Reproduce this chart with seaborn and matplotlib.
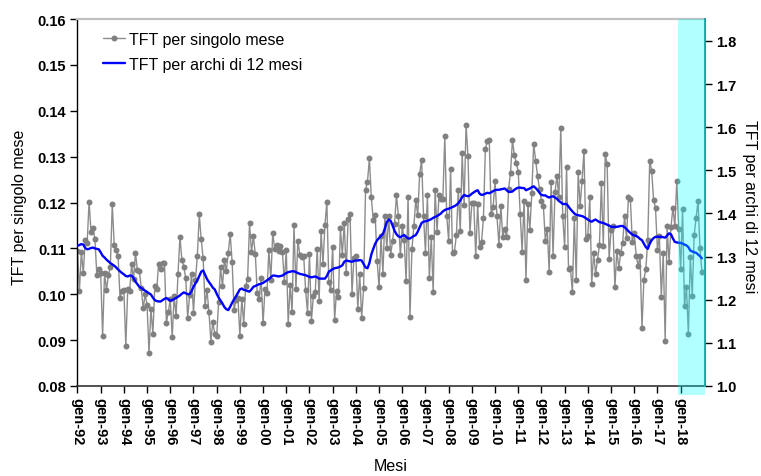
import numpy as np
import pandas as pd
import matplotlib
matplotlib.use("Agg")
import matplotlib.pyplot as plt
from matplotlib.lines import Line2D
import seaborn as sns

# ---------------- data ----------------
tick_labels = ['gen-92', 'gen-93', 'gen-94', 'gen-95', 'gen-96', 'gen-97', 'gen-98',
               'gen-99', 'gen-00', 'gen-01', 'gen-02', 'gen-03', 'gen-04', 'gen-05',
               'gen-06', 'gen-07', 'gen-08', 'gen-09', 'gen-10', 'gen-11', 'gen-12',
               'gen-13', 'gen-14', 'gen-15', 'gen-16', 'gen-17', 'gen-18']

# TFT per singolo mese (monthly, gen-92 ... dic-18), left axis
tft_mese = [
    0.1094, 0.1007, 0.1093, 0.1046, 0.1118, 0.1111, 0.1202, 0.1136, 0.1145, 0.1120, 0.1043, 0.1056,
    0.1046, 0.0909, 0.1047, 0.1009, 0.1042, 0.1060, 0.1197, 0.1107, 0.1096, 0.1083, 0.0992, 0.1007,
    0.1009, 0.0888, 0.1011, 0.1007, 0.1065, 0.1033, 0.1090, 0.1053, 0.1051, 0.1014, 0.0969, 0.1000,
    0.0976, 0.0873, 0.0968, 0.0913, 0.1018, 0.1012, 0.1067, 0.1056, 0.1069, 0.1069, 0.0938, 0.0961,
    0.0989, 0.0906, 0.0997, 0.0953, 0.1044, 0.1125, 0.1075, 0.1060, 0.1035, 0.0949, 0.0998, 0.1044,
    0.0960, 0.1030, 0.1083, 0.1174, 0.1120, 0.1078, 0.0975, 0.1009, 0.0961, 0.0897, 0.0940, 0.0914,
    0.0908, 0.0983, 0.1059, 0.1017, 0.1075, 0.1051, 0.1090, 0.1131, 0.1070, 0.0966, 0.0988, 0.0991,
    0.0910, 0.0990, 0.0936, 0.1019, 0.1033, 0.1155, 0.1093, 0.1126, 0.1087, 0.1002, 0.0990, 0.1035,
    0.0937, 0.1012, 0.1002, 0.1096, 0.1032, 0.1133, 0.1099, 0.1107, 0.1095, 0.1106, 0.1093, 0.1026,
    0.1096, 0.0936, 0.1020, 0.0961, 0.1151, 0.1012, 0.1117, 0.1086, 0.1082, 0.1084, 0.1009, 0.0960,
    0.1088, 0.0942, 0.0996, 0.1004, 0.1099, 0.0986, 0.1137, 0.1066, 0.1151, 0.1201, 0.1026, 0.1010,
    0.1104, 0.0943, 0.1008, 0.0995, 0.1144, 0.1086, 0.1155, 0.1046, 0.1165, 0.1175, 0.1001, 0.1080,
    0.1084, 0.0968, 0.1044, 0.0949, 0.1013, 0.1228, 0.1245, 0.1296, 0.1211, 0.1162, 0.1172, 0.1073,
    0.1015, 0.1126, 0.1045, 0.1170, 0.1100, 0.1171, 0.1086, 0.1117, 0.1153, 0.1216, 0.1170, 0.1085,
    0.1148, 0.1119, 0.1028, 0.1213, 0.0950, 0.1099, 0.1148, 0.1206, 0.1172, 0.1262, 0.1293, 0.1171,
    0.1090, 0.1216, 0.1035, 0.1124, 0.1004, 0.1228, 0.1136, 0.1216, 0.1207, 0.1207, 0.1345, 0.1171,
    0.1117, 0.1274, 0.1090, 0.1093, 0.1129, 0.1227, 0.1138, 0.1307, 0.1194, 0.1369, 0.1301, 0.1133,
    0.1199, 0.1199, 0.1083, 0.1196, 0.1104, 0.1113, 0.1167, 0.1317, 0.1334, 0.1336, 0.1175, 0.1190,
    0.1246, 0.1170, 0.1107, 0.1193, 0.1124, 0.1143, 0.1124, 0.1230, 0.1265, 0.1336, 0.1303, 0.1286,
    0.1267, 0.1175, 0.1093, 0.1204, 0.1032, 0.1196, 0.1141, 0.1220, 0.1328, 0.1291, 0.1258, 0.1229,
    0.1204, 0.1193, 0.1117, 0.1143, 0.1049, 0.1245, 0.1084, 0.1222, 0.1258, 0.1211, 0.1363, 0.1171,
    0.1102, 0.1278, 0.1054, 0.1057, 0.1004, 0.1167, 0.1032, 0.1267, 0.1193, 0.1247, 0.1312, 0.1120,
    0.1128, 0.1213, 0.1022, 0.1090, 0.1044, 0.1075, 0.1107, 0.1242, 0.1106, 0.1305, 0.1283, 0.1077,
    0.1141, 0.1149, 0.1015, 0.1095, 0.1057, 0.1090, 0.1112, 0.1171, 0.1122, 0.1213, 0.1207, 0.1114,
    0.1133, 0.1084, 0.1062, 0.1084, 0.0926, 0.1032, 0.1055, 0.1119, 0.1291, 0.1269, 0.1206, 0.1187,
    0.1097, 0.1126, 0.0995, 0.1090, 0.0899, 0.1148, 0.1070, 0.1146, 0.1189, 0.1148, 0.1247, 0.1143,
    0.1054, 0.1185, 0.0974, 0.1016, 0.0913, 0.1082, 0.0997, 0.1129, 0.1166, 0.1204, 0.1100, 0.1049,
]

# TFT per archi di 12 mesi (rolling 12 months), right axis
tft_12mesi = [
    1.325, 1.327, 1.329, 1.328, 1.320, 1.317, 1.318, 1.320, 1.321, 1.319, 1.318, 1.317,
    1.310, 1.302, 1.298, 1.293, 1.289, 1.285, 1.282, 1.279, 1.275, 1.270, 1.266, 1.262,
    1.259, 1.255, 1.254, 1.256, 1.256, 1.250, 1.242, 1.236, 1.230, 1.227, 1.224, 1.221,
    1.218, 1.215, 1.212, 1.205, 1.199, 1.197, 1.196, 1.196, 1.199, 1.202, 1.204, 1.201,
    1.198, 1.199, 1.202, 1.204, 1.207, 1.210, 1.214, 1.217, 1.215, 1.213, 1.213, 1.220,
    1.230, 1.238, 1.245, 1.255, 1.265, 1.268, 1.258, 1.248, 1.241, 1.235, 1.228, 1.224,
    1.214, 1.205, 1.198, 1.191, 1.183, 1.178, 1.176, 1.184, 1.193, 1.201, 1.208, 1.216,
    1.224, 1.226, 1.223, 1.222, 1.220, 1.219, 1.224, 1.230, 1.232, 1.234, 1.236, 1.237,
    1.239, 1.242, 1.245, 1.248, 1.252, 1.256, 1.256, 1.255, 1.254, 1.255, 1.256, 1.259,
    1.262, 1.264, 1.265, 1.266, 1.266, 1.264, 1.262, 1.260, 1.259, 1.258, 1.257, 1.255,
    1.253, 1.252, 1.253, 1.254, 1.252, 1.249, 1.249, 1.249, 1.249, 1.255, 1.265, 1.268,
    1.271, 1.273, 1.274, 1.275, 1.277, 1.280, 1.288, 1.291, 1.290, 1.289, 1.288, 1.290,
    1.291, 1.291, 1.292, 1.291, 1.283, 1.275, 1.273, 1.285, 1.305, 1.318, 1.330, 1.338,
    1.343, 1.348, 1.353, 1.365, 1.380, 1.386, 1.383, 1.372, 1.360, 1.352, 1.347, 1.345,
    1.348, 1.350, 1.346, 1.342, 1.342, 1.345, 1.348, 1.350, 1.358, 1.368, 1.378, 1.381,
    1.382, 1.383, 1.385, 1.387, 1.390, 1.392, 1.394, 1.397, 1.400, 1.405, 1.408, 1.410,
    1.411, 1.413, 1.415, 1.417, 1.420, 1.424, 1.430, 1.438, 1.443, 1.441, 1.440, 1.442,
    1.446, 1.449, 1.452, 1.454, 1.446, 1.443, 1.444, 1.446, 1.448, 1.447, 1.449, 1.452,
    1.454, 1.455, 1.455, 1.456, 1.457, 1.458, 1.454, 1.450, 1.450, 1.451, 1.455, 1.458,
    1.460, 1.460, 1.459, 1.459, 1.454, 1.456, 1.458, 1.461, 1.463, 1.459, 1.454, 1.448,
    1.443, 1.442, 1.442, 1.439, 1.437, 1.439, 1.440, 1.437, 1.434, 1.429, 1.426, 1.422,
    1.422, 1.422, 1.416, 1.410, 1.405, 1.400, 1.397, 1.396, 1.395, 1.394, 1.392, 1.389,
    1.386, 1.383, 1.381, 1.384, 1.386, 1.383, 1.380, 1.379, 1.378, 1.376, 1.374, 1.372,
    1.369, 1.369, 1.369, 1.369, 1.370, 1.371, 1.371, 1.368, 1.364, 1.359, 1.355, 1.351,
    1.349, 1.348, 1.345, 1.341, 1.338, 1.330, 1.322, 1.318, 1.330, 1.338, 1.343, 1.346,
    1.346, 1.346, 1.346, 1.345, 1.344, 1.349, 1.354, 1.352, 1.342, 1.334, 1.333, 1.332,
    1.332, 1.330, 1.328, 1.326, 1.322, 1.314, 1.312, 1.310, 1.309, 1.305, 1.301, 1.296,
]

left_ticks = [0.08, 0.09, 0.10, 0.11, 0.12, 0.13, 0.14, 0.15, 0.16]
right_ticks = [1.0, 1.1, 1.2, 1.3, 1.4, 1.5, 1.6, 1.7, 1.8]

# ---------------- style ----------------
sns.set_theme(style="white")
plt.rcParams["font.family"] = ["Liberation Sans", "DejaVu Sans"]
plt.rcParams["text.color"] = "black"
plt.rcParams["axes.labelcolor"] = "black"
plt.rcParams["xtick.color"] = "black"
plt.rcParams["ytick.color"] = "black"

W, H = 761, 477
fig = plt.figure(figsize=(W / 100, H / 100), dpi=100)
L, R, T, B = 77, 705, 20, 387
ax = fig.add_axes([L / W, 1 - B / H, (R - L) / W, (B - T) / H])
ax2 = ax.twinx()

df = pd.DataFrame({"mese": np.arange(len(tft_mese)),
                   "singolo": tft_mese,
                   "archi": tft_12mesi})

sns.lineplot(data=df, x="mese", y="singolo", ax=ax, color="#8c8c8c",
             linewidth=1.0, marker="o", markersize=4.3,
             markeredgewidth=0, markerfacecolor="#808080", legend=False)
sns.lineplot(data=df, x="mese", y="archi", ax=ax2, color="#0000ff",
             linewidth=1.7, legend=False)

n = len(tft_mese)
xmin, xmax = -0.25, 324.6
ax.set_xlim(xmin, xmax)
ax2.set_xlim(xmin, xmax)
ax.set_ylim(0.08, 0.16)
ax2.set_ylim(1.0, 1.851)

# highlighted last period
ax2.axvspan(310.6, xmax, ymin=-0.025, ymax=1.0, color="#00ffff", alpha=0.3,
            lw=0, zorder=5, clip_on=False)

# ticks
ax.set_xticks(np.arange(0, n, 12))
ax.set_xticklabels(tick_labels, rotation=270, fontsize=10.5, fontweight="bold")
ax.set_yticks(left_ticks)
ax.set_yticklabels(["%.2f" % v for v in left_ticks], fontsize=10.5, fontweight="bold")
ax2.set_yticks(right_ticks)
ax2.set_yticklabels(["%.1f" % v for v in right_ticks], fontsize=10.5, fontweight="bold")

ax.tick_params(axis="x", direction="out", length=5, width=1, pad=3, color="black",
               labelcolor="black", bottom=True)
ax.tick_params(axis="y", direction="out", length=5, width=1, pad=3, color="black",
               labelcolor="black", left=True)
ax2.tick_params(axis="y", direction="out", length=5, width=1, pad=3, color="black",
                labelcolor="black", right=True)

# spines
for s in ["top", "left", "bottom", "right"]:
    ax2.spines[s].set_visible(False)
ax2.spines["right"].set_visible(True)
ax2.spines["right"].set_color("#2f8f8f")
ax2.spines["right"].set_linewidth(1.4)
ax.spines["right"].set_visible(False)
ax.spines["top"].set_color("#c0c0c0")
ax.spines["top"].set_linewidth(1.6)
ax.spines["left"].set_color("black")
ax.spines["left"].set_linewidth(1.0)
ax.spines["bottom"].set_color("#333333")
ax.spines["bottom"].set_linewidth(1.2)

# labels
ax.set_xlabel("Mesi", fontsize=11.5, color="black")
ax.xaxis.set_label_coords((391 - L) / (R - L), -(467 - B) / (B - T))
ax.xaxis.label.set_va("center")
ax.set_ylabel("TFT per singolo mese", fontsize=11.5, color="black")
ax.yaxis.set_label_coords((27 - L) / (R - L), (B - 207) / (B - T))
ax2.set_ylabel("")
fig.text(750 / W, 1 - 207 / H, "TFT per archi di 12 mesi", rotation=270,
         ha="center", va="center", fontsize=11.5, color="black")

# legend
handles = [Line2D([], [], color="#8c8c8c", lw=1.0, marker="o", markersize=4.3,
                  markeredgewidth=0, markerfacecolor="#808080"),
           Line2D([], [], color="#0000ff", lw=1.7)]
leg = ax2.legend(handles, ["TFT per singolo mese", "TFT per archi di 12 mesi"],
                 loc="upper left", bbox_to_anchor=((103 - L) / (R - L), (B - 33) / (B - T)),
                 frameon=False, fontsize=11.5, borderpad=0, borderaxespad=0,
                 handlelength=1.4, handletextpad=0.25, labelspacing=0.6, numpoints=1)
for t in leg.get_texts():
    t.set_color("black")

fig.savefig("out.png", dpi=100)
